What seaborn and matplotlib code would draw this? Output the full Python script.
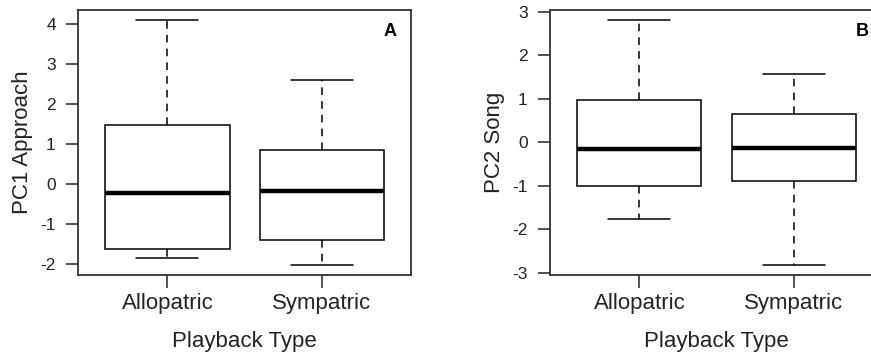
import numpy as np
import pandas as pd
import matplotlib
matplotlib.use("Agg")
import matplotlib.pyplot as plt
import seaborn as sns

# Five-number summaries (min, Q1, median, Q3, max)
categories = ["Allopatric", "Sympatric"]
pc1_allopatric = [-1.85, -1.62, -0.22, 1.48, 4.10]
pc1_sympatric = [-2.02, -1.40, -0.18, 0.86, 2.61]
pc2_allopatric = [-1.76, -0.99, -0.157, 0.977, 2.82]
pc2_sympatric = [-2.82, -0.885, -0.12, 0.648, 1.575]
ylabels = ["PC1 Approach", "PC2 Song"]
panel_letters = ["A", "B"]
xlabel = "Playback Type"

sns.set_style("white")
plt.rcParams["font.family"] = ["Liberation Sans", "DejaVu Sans"]

fig = plt.figure(figsize=(8.71, 3.54), dpi=100)
axA = fig.add_axes([0.0896, 0.2232, 0.3823, 0.7486])
axB = fig.add_axes([0.6315, 0.2232, 0.3823, 0.7486])

panels = [
    (axA, pc1_allopatric, pc1_sympatric, ylabels[0], panel_letters[0], [-2, -1, 0, 1, 2, 3, 4]),
    (axB, pc2_allopatric, pc2_sympatric, ylabels[1], panel_letters[1], [-3, -2, -1, 0, 1, 2, 3]),
]

for ax, allo, symp, ylab, letter, yticks in panels:
    df = pd.DataFrame({
        "type": [categories[0]] * len(allo) + [categories[1]] * len(symp),
        "value": allo + symp,
    })
    sns.boxplot(
        data=df, x="type", y="value", order=categories, ax=ax,
        whis=(0, 100), width=0.805, color="white", saturation=1,
        linecolor="black", linewidth=1.1, showfliers=False,
        medianprops={"linewidth": 3.2, "color": "black"},
        whiskerprops={"linestyle": (0, (5, 4)), "linewidth": 1.1},
        capprops={"linewidth": 1.1},
    )
    vals = np.array(allo + symp)
    lo, hi = vals.min(), vals.max()
    pad = 0.04 * (hi - lo)
    ax.set_ylim(lo - pad, hi + pad)
    ax.set_xlim(-0.58, 1.58)
    ax.set_yticks(yticks)
    ax.set_yticklabels([str(t) for t in yticks])
    ax.set_ylabel(ylab, fontsize=16, color="#222222", labelpad=5)
    ax.set_xlabel(xlabel, fontsize=16, color="#222222", labelpad=12)
    ax.tick_params(axis="y", which="both", left=True, length=9, width=1.1,
                   colors="#222222", labelsize=12.5, pad=7)
    ax.tick_params(axis="x", which="both", bottom=True, length=9, width=1.1,
                   colors="#222222", labelsize=16, pad=4)
    for sp in ax.spines.values():
        sp.set_visible(True)
        sp.set_color("#333333")
        sp.set_linewidth(1.3)
    ax.annotate(letter, xy=(1, 1), xycoords="axes fraction", xytext=(-21, -22),
                textcoords="offset pixels", ha="center", va="center",
                fontsize=13, fontweight="bold", color="black")

fig.savefig("out.png", dpi=100)
